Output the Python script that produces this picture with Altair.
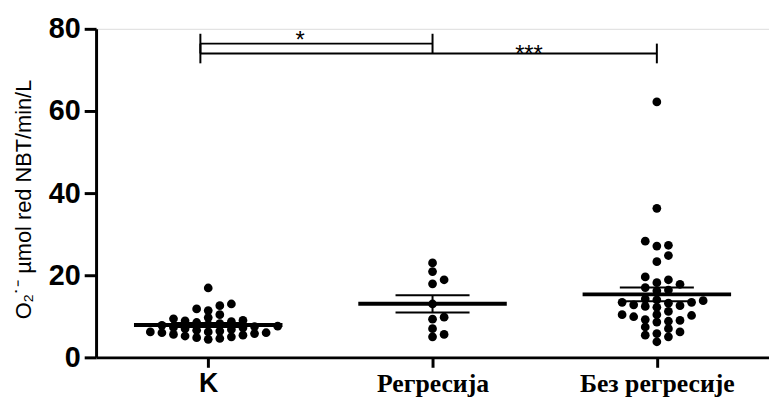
import json
import altair as alt
import numpy as np
import pandas as pd

# ---------------- data ----------------
groups = ["K", "Регресија", "Без регресије"]

k_values = [16.9, 13.0, 12.6, 11.8, 11.4, 10.4, 9.7, 9.4, 9.0, 8.9, 8.7, 8.5,
            8.2, 8.0, 7.8, 7.6, 7.5, 7.3, 7.2, 7.0, 6.8, 6.6, 6.4, 6.2, 6.2,
            6.0, 6.0, 5.8, 5.6, 5.4, 5.2, 5.0, 4.8, 4.6, 4.4]
reg_values = [23.0, 20.9, 18.9, 17.9, 13.0, 9.8, 9.3, 7.0, 5.0, 5.6]
bez_values = [62.2, 36.3, 28.3, 27.3, 27.1, 24.8, 23.3, 19.6, 18.9, 18.2,
              17.8, 17.0, 16.4, 16.2, 14.2, 13.8, 12.4, 13.4, 12.8, 12.6,
              13.2, 13.4, 14.0, 12.2, 11.2, 10.4, 10.2, 9.9, 10.4, 9.0,
              8.8, 8.6, 9.2, 6.2, 7.4, 5.4, 7.0, 5.0, 5.8, 3.8]

y_ticks = [0, 20, 40, 60, 80]
y_title = "O₂˙⁻ µmol red NBT/min/L"

# significance brackets: from group, to group, label, bracket level, label pos
sig_from = [0, 0]
sig_to = [1, 2]
sig_label = ["*", "***"]
sig_level = [76.4, 74.0]
sig_label_x = [0.41, 1.43]
sig_label_y = [75.4, 72.0]

# ---------------- layout constants ----------------
W, H = 680, 332
X_DOMAIN = [-0.5, 2.5]
Y_DOMAIN = [0, 80]
PX_X = W / (X_DOMAIN[1] - X_DOMAIN[0])
PX_Y = H / (Y_DOMAIN[1] - Y_DOMAIN[0])
STEP_PX = 11.7
MIN_DY_PX = 7.0


def swarm_columns(vals):
    """Simple column beeswarm: each point gets the column nearest the centre
    in which it does not collide vertically with earlier points."""
    cands = [0]
    for j in range(1, 30):
        cands += [j, -j]
    placed = []
    cols = [0] * len(vals)
    for i in np.argsort(vals, kind="stable"):
        ypx = vals[i] * PX_Y
        for c in cands:
            if all(not (pc == c and abs(py - ypx) < MIN_DY_PX) for pc, py in placed):
                placed.append((c, ypx))
                cols[i] = c
                break
    return cols


rows = []
for gi, vals in enumerate([k_values, reg_values, bez_values]):
    cols = swarm_columns(vals)
    for v, c in zip(vals, cols):
        rows.append({"idx": gi, "group": groups[gi], "value": v,
                     "xpos": gi + c * STEP_PX / PX_X})
df = pd.DataFrame(rows)

sig = pd.DataFrame({
    "x1": [f - 0.035 for f in sig_from],
    "x2": sig_to,
    "y": sig_level,
    "ylo": [l - 2.4 for l in sig_level],
    "yhi": [l + 2.4 for l in sig_level],
    "label": sig_label,
    "lx": sig_label_x,
    "ly": sig_label_y,
})

label_expr = json.dumps(groups, ensure_ascii=False) + "[datum.value]"

x_axis = alt.Axis(
    values=[0, 1, 2], labelExpr=label_expr, title="", grid=False,
    domainColor="black", domainWidth=3, tickColor="black", tickWidth=3,
    tickSize=10, labelColor="black", labelFontWeight="bold",
    labelFontSize={"condition": {"test": "datum.value == 0", "value": 27},
                   "value": 26},
    labelFont={"condition": {"test": "datum.value == 0", "value": "Liberation Sans"},
               "value": "Liberation Serif"},
    labelPadding=3, labelAngle=0,
)
y_axis = alt.Axis(
    values=y_ticks, title=y_title, grid=False,
    domainColor="black", domainWidth=3, tickColor="black", tickWidth=3,
    tickSize=12, labelColor="black", labelFont="Liberation Sans",
    labelFontSize=29, labelFontWeight="bold", labelPadding=4,
    titleFont="Liberation Sans", titleFontSize=22, titleFontWeight="normal",
    titleColor="black", titleAngle=270, titleX=-61, titleY=172,
    titleBaseline="bottom", titleAlign="center",
)
xs = alt.Scale(domain=X_DOMAIN, nice=False, zero=False)
ys = alt.Scale(domain=Y_DOMAIN, nice=False)


def X(f):
    return alt.X(f, type="quantitative", scale=xs, axis=x_axis)


def Y(f):
    return alt.Y(f, type="quantitative", scale=ys, axis=y_axis)


base = alt.Chart(df)

points = base.mark_circle(size=78, color="black", opacity=1).encode(
    x=X("xpos"), y=Y("value"))

agg = base.transform_aggregate(
    mean="mean(value)", sem="stderr(value)", groupby=["idx"]
).transform_calculate(
    lo="datum.mean - datum.sem", hi="datum.mean + datum.sem",
    ml="datum.idx - 0.331", mr="datum.idx + 0.331",
    cl="datum.idx - 0.165", cr="datum.idx + 0.165",
)

mean_line = agg.mark_rule(color="black", strokeWidth=4).encode(
    x=X("ml"), x2="mr:Q", y=Y("mean"))
cap_hi = agg.mark_rule(color="black", strokeWidth=2).encode(
    x=X("cl"), x2="cr:Q", y=Y("hi"))
cap_lo = agg.mark_rule(color="black", strokeWidth=2).encode(
    x=X("cl"), x2="cr:Q", y=Y("lo"))
err_v = agg.mark_rule(color="black", strokeWidth=2).encode(
    x=X("idx"), y=Y("lo"), y2="hi:Q")

sbase = alt.Chart(sig)
sig_h = sbase.mark_rule(color="black", strokeWidth=2).encode(
    x=X("x1"), x2="x2:Q", y=Y("y"))
sig_l = sbase.mark_rule(color="black", strokeWidth=2).encode(
    x=X("x1"), y=Y("ylo"), y2="yhi:Q")
sig_r = sbase.mark_rule(color="black", strokeWidth=2).encode(
    x=X("x2"), y=Y("ylo"), y2="yhi:Q")
sig_t = sbase.mark_text(font="Liberation Sans", fontSize=24, color="black",
                        baseline="alphabetic", align="center").encode(
    x=X("lx"), y=Y("ly"), text="label:N")

chart = alt.layer(
    mean_line, cap_hi, cap_lo, err_v, points, sig_h, sig_l, sig_r, sig_t
).properties(
    width=W, height=H,
    padding={"left": 89, "top": 19, "right": 0, "bottom": 39},
    autosize=alt.AutoSizeParams(type="none"),
).configure_view(strokeWidth=0).configure(background="white")

chart.save("out.html", embed_options={"renderer": "svg", "actions": False})
